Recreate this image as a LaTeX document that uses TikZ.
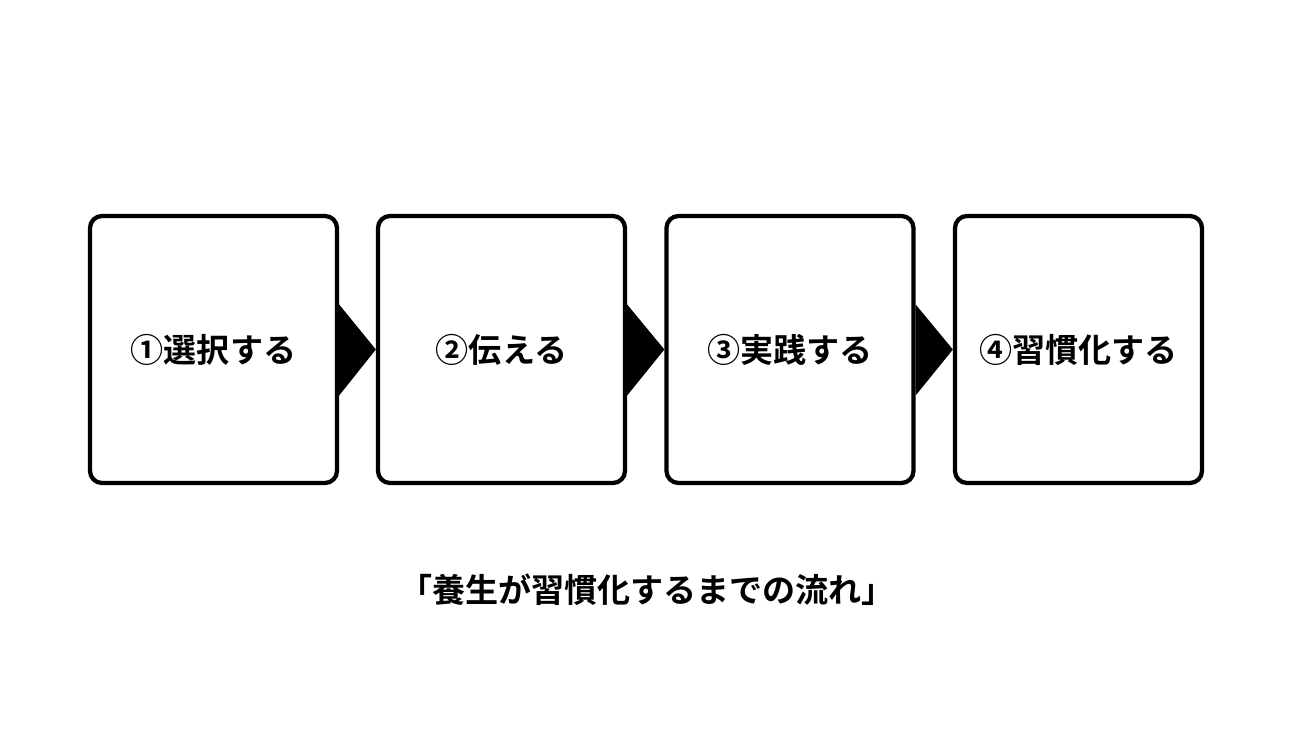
\documentclass[tikz,border=0pt]{standalone}
\usepackage{fontspec}
\setmainfont{Noto Sans CJK JP}[BoldFont={* Bold}]
\begin{document}
\begin{tikzpicture}[x=0.75pt,y=-0.75pt,
  stepbox/.style={draw=black,line width=3.2pt,rounded corners=9pt,fill=white,
    minimum width=247*0.75pt,minimum height=267*0.75pt,inner sep=0pt,
    font=\bfseries\fontsize{24.8}{28}\selectfont},
  tri/.style={fill=black,draw=none},
  caption/.style={font=\bfseries\fontsize{24.8}{28}\selectfont,inner sep=0pt}]
\useasboundingbox (0,0) rectangle (1300,737);
\node[stepbox] (b1) at (213.5,349.5) {①選択する};
\node[stepbox] (b2) at (501.5,349.5) {②伝える};
\node[stepbox] (b3) at (790,349.5) {③実践する};
\node[stepbox] (b4) at (1078.5,349.5) {④習慣化する};
\foreach \a/\b in {b1/b2,b2/b3,b3/b4}{
  \fill[tri] ([yshift=45*0.75pt]\a.east) -- ([yshift=-46*0.75pt]\a.east) -- (\b.west) -- cycle;
}
\node[caption] (cap) at (647,590) {「養生が習慣化するまでの流れ」};
\end{tikzpicture}
\end{document}
